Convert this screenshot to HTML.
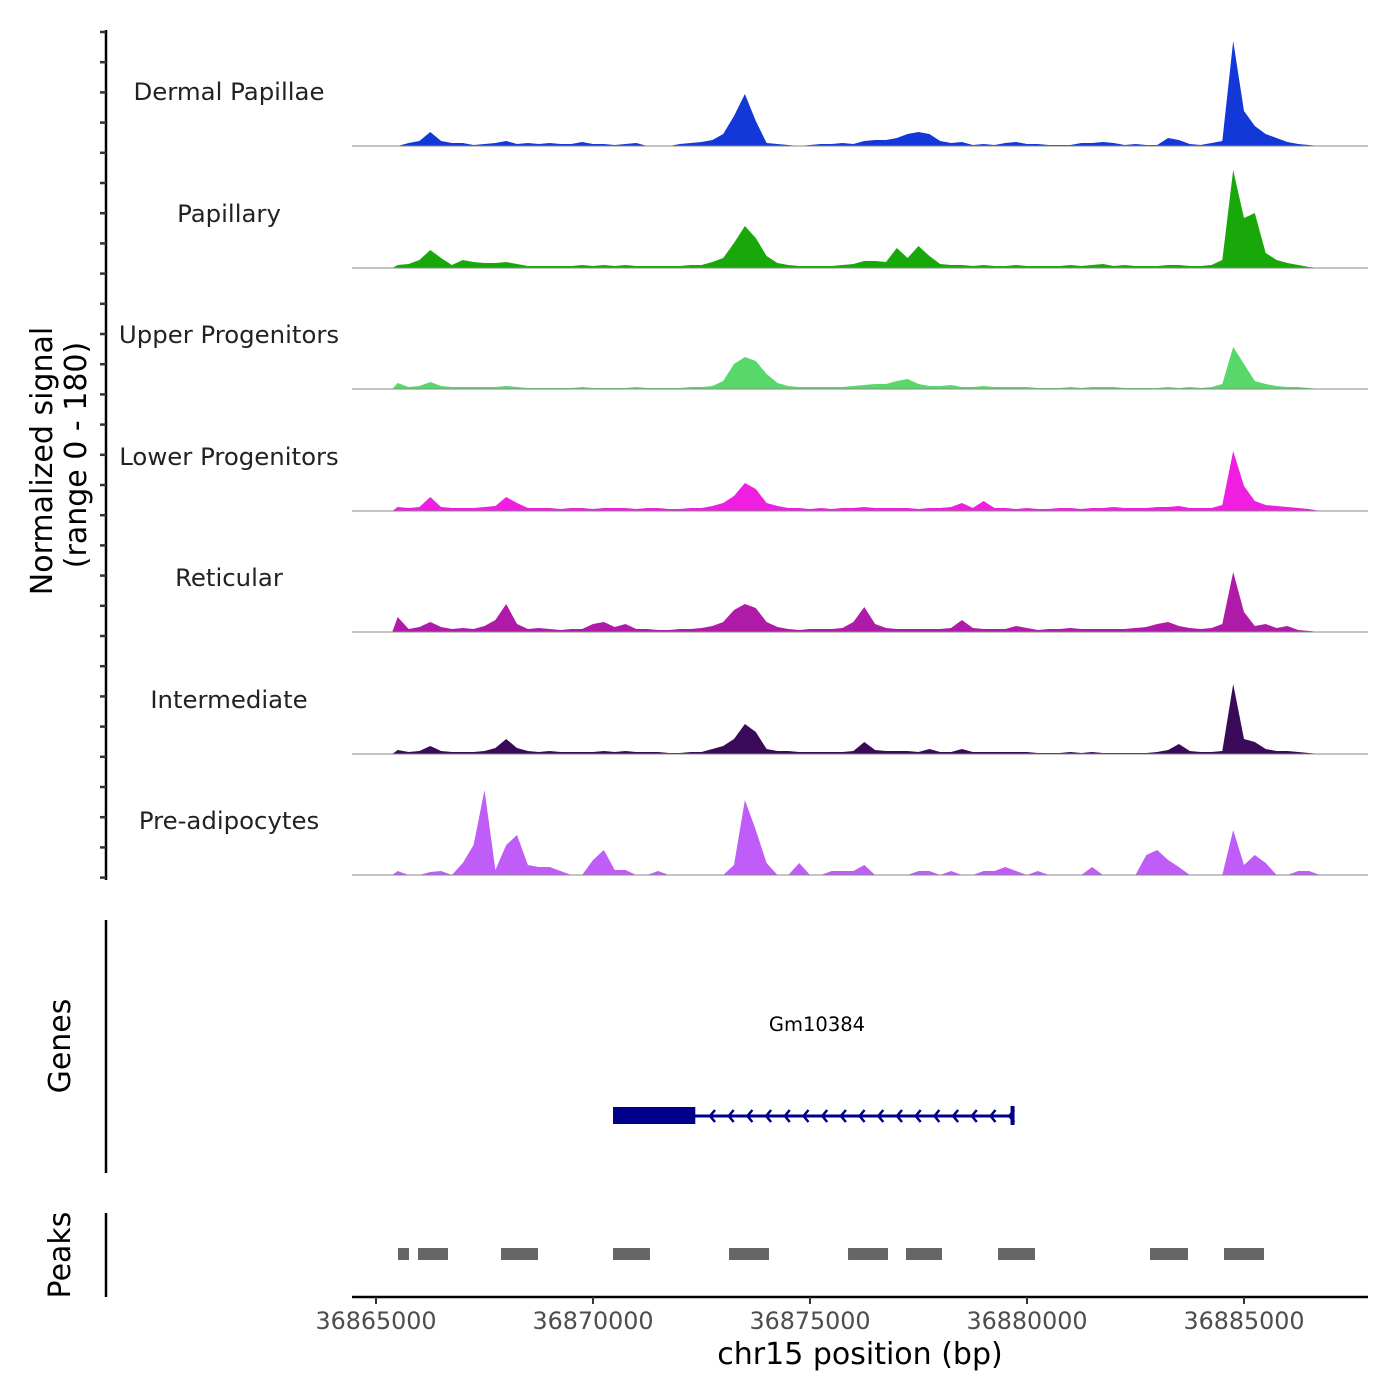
<!DOCTYPE html>
<html><head><meta charset="utf-8">
<style>
html,body{margin:0;padding:0;background:#fff;}
svg{display:block;font-family:"DejaVu Sans","Liberation Sans",sans-serif;}
</style></head>
<body>
<svg id="chart" width="1400" height="1400" viewBox="0 0 1400 1400"></svg>
<script>
const trackNames = ["Dermal Papillae","Papillary","Upper Progenitors","Lower Progenitors","Reticular","Intermediate","Pre-adipocytes"];
const trackColors = ["#1238d8","#18a80a","#58d86a","#f01ee0","#b01aa8","#380a58","#c05cf8"];
const binStart = 36865500;
const binSize = 250;
const dermalPapillae = [0,3,5,14,5,3,3,1,2,3,5,2,3,2,3,2,2,4,2,2,1,2,3,0,0,0,2,3,4,6,12,30,52,25,3,2,1,0,1,2,2,3,2,5,6,6,8,12,14,12,5,3,4,1,2,1,3,4,2,2,1,1,1,3,3,4,3,1,2,1,1,8,6,2,1,3,5,105,35,20,12,8,4,2,1,0];
const papillary = [3,4,8,18,10,3,8,6,5,5,6,4,2,2,2,2,2,3,2,3,2,3,2,2,2,2,2,3,3,6,10,25,42,30,12,5,3,2,2,2,2,3,4,7,7,6,20,10,22,12,4,3,3,2,3,2,2,3,2,2,2,2,3,2,3,4,2,3,2,2,2,3,3,2,2,3,8,98,50,55,15,8,5,3,1,0];
const upperProgenitors = [6,2,3,7,3,2,2,2,2,2,3,2,1,1,1,1,1,2,1,1,1,1,2,1,1,1,1,2,2,3,8,25,32,28,15,6,3,2,2,2,2,2,3,4,5,5,8,10,5,3,3,4,2,2,3,2,2,2,2,1,1,1,2,1,2,2,2,1,1,1,1,2,1,2,1,2,5,42,25,8,5,3,2,2,1,0];
const lowerProgenitors = [4,3,4,14,4,3,3,3,4,5,14,8,3,3,3,2,3,3,2,3,3,3,2,3,3,2,2,3,3,5,8,15,28,22,8,5,3,3,2,3,2,3,3,4,3,3,3,3,2,3,3,4,8,3,10,3,3,2,3,2,2,3,3,2,3,3,4,3,3,3,4,4,5,3,3,3,6,60,25,10,6,5,4,3,2,0];
const reticular = [15,3,5,10,5,3,4,3,6,12,28,8,3,4,3,2,3,3,8,10,5,8,3,3,2,2,3,3,4,6,10,22,28,24,10,5,3,2,3,3,3,4,10,25,8,4,3,3,3,3,3,4,12,4,3,3,3,6,4,2,3,3,4,3,3,3,3,3,4,5,8,10,6,4,3,4,8,60,20,6,8,4,6,2,1,0];
const intermediate = [4,2,3,8,3,2,2,2,3,6,15,6,3,2,3,2,2,2,2,3,2,3,2,2,2,1,1,2,2,5,8,15,30,22,5,3,3,2,2,2,2,2,3,12,4,3,3,3,2,5,2,2,5,2,2,2,2,2,2,1,1,1,2,1,2,1,1,1,1,1,2,4,10,3,2,2,3,70,15,12,5,3,3,2,1,0];
const preAdipocytes = [4,0,0,3,4,0,12,30,85,5,30,40,10,8,8,4,0,0,15,25,5,5,0,0,4,0,0,0,0,0,0,10,75,45,12,0,0,12,0,0,4,4,4,10,0,0,0,0,4,4,0,4,0,0,4,4,8,4,0,4,0,0,0,0,8,0,0,0,0,20,25,15,8,0,0,0,0,45,10,20,12,0,0,4,4,0];
const tracks = [dermalPapillae,papillary,upperProgenitors,lowerProgenitors,reticular,intermediate,preAdipocytes];
const peakStarts = [36865507,36865968,36867880,36870461,36873134,36875876,36877212,36879332,36882834,36884539];
const peakEnds = [36865760,36866659,36868733,36871313,36874055,36876797,36878041,36880184,36883710,36885461];
const xTicks = [36865000,36870000,36875000,36880000,36885000];
const geneStart = 36870461, geneEnd = 36879667, cdsEnd = 36872357;

const NS="http://www.w3.org/2000/svg";
const svg=document.getElementById('chart');
function mk(tag,attrs,parent){const e=document.createElementNS(NS,tag);for(const k in attrs)e.setAttribute(k,attrs[k]);(parent||svg).appendChild(e);return e;}
const x = bp => 376 + (bp-36865000)*0.0434;
const yMax = 112, trackPx = 112;
const baselines = [146,268,389,511,632,754,875];
const h = v => v/yMax*trackPx;

tracks.forEach((vals,t)=>{
  const g=mk('g',{});
  
  
  const b=baselines[t];
  let d='M'+x(binStart-binSize/2)+','+b;
  vals.forEach((v,i)=>{d+=' L'+x(binStart+i*binSize).toFixed(1)+','+(b-h(v)).toFixed(1);});
  d+=' L'+x(binStart+(vals.length-0.5)*binSize)+','+b+' Z';
  const p=mk('path',{d:d,fill:trackColors[t]},g);
  
  
  const l=mk('line',{x1:352,x2:1368,y1:b,y2:b,stroke:'#888','stroke-width':1},g);
  
  
  const tx=mk('text',{x:229,y:b-46,'text-anchor':'middle','font-size':24.4,fill:'#222'},g);
  tx.textContent=trackNames[t];
  
  
});

const ax=mk('line',{x1:106,x2:106,y1:30,y2:880,stroke:'#000','stroke-width':2.5});


for(let i=0;i<29;i++){const yy=32+i*30.2;const tk=mk('line',{x1:100,x2:106,y1:yy,y2:yy,stroke:'#333','stroke-width':2.5});

}
const yt=mk('text',{transform:'translate(52,461) rotate(-90)','text-anchor':'middle','font-size':30,fill:'#000'});
yt.textContent='Normalized signal';


const yt2=mk('text',{transform:'translate(86,455) rotate(-90)','text-anchor':'middle','font-size':30,fill:'#000'});
yt2.textContent='(range 0 - 180)';



const ga=mk('line',{x1:106,x2:106,y1:920,y2:1173,stroke:'#000','stroke-width':2.5});


const gt=mk('text',{transform:'translate(70,1046) rotate(-90)','text-anchor':'middle','font-size':30,fill:'#000'});
gt.textContent='Genes';


const gg=mk('g',{});


mk('line',{x1:x(geneStart),x2:x(geneEnd),y1:1116,y2:1116,stroke:'#00008B','stroke-width':3},gg);
mk('rect',{x:x(geneStart),y:1107,width:x(cdsEnd)-x(geneStart),height:17,fill:'#00008B'},gg);
mk('rect',{x:x(geneEnd)-2,y:1106,width:4,height:19,fill:'#00008B'},gg);
for(let cx=710;cx<1012;cx+=18.7){mk('path',{d:`M${cx+5},${1110} L${cx},${1116} L${cx+5},${1122}`,fill:'none',stroke:'#00008B','stroke-width':2.5},gg);}
const gl=mk('text',{x:817,y:1031,'text-anchor':'middle','font-size':19.5,fill:'#000'},gg);
gl.textContent='Gm10384';

const pa=mk('line',{x1:106,x2:106,y1:1213,y2:1297,stroke:'#000','stroke-width':2.5});


const pt=mk('text',{transform:'translate(70,1255) rotate(-90)','text-anchor':'middle','font-size':30,fill:'#000'});
pt.textContent='Peaks';


peakStarts.forEach((s,i)=>{const r=mk('rect',{x:x(s),y:1248,width:x(peakEnds[i])-x(s),height:12,fill:'#666'});

});

const xa=mk('line',{x1:352,x2:1368,y1:1297,y2:1297,stroke:'#000','stroke-width':2.5});


xTicks.forEach(v=>{
  const tk=mk('line',{x1:x(v),x2:x(v),y1:1297,y2:1304,stroke:'#333','stroke-width':2});
  
  
  const tl=mk('text',{x:x(v),y:1329,'text-anchor':'middle','font-size':23.8,fill:'#4d4d4d'});
  tl.textContent=String(v);
  
  
});
const xt=mk('text',{x:860,y:1364,'text-anchor':'middle','font-size':30,fill:'#000'});
xt.textContent='chr15 position (bp)';


</script>
</body></html>
